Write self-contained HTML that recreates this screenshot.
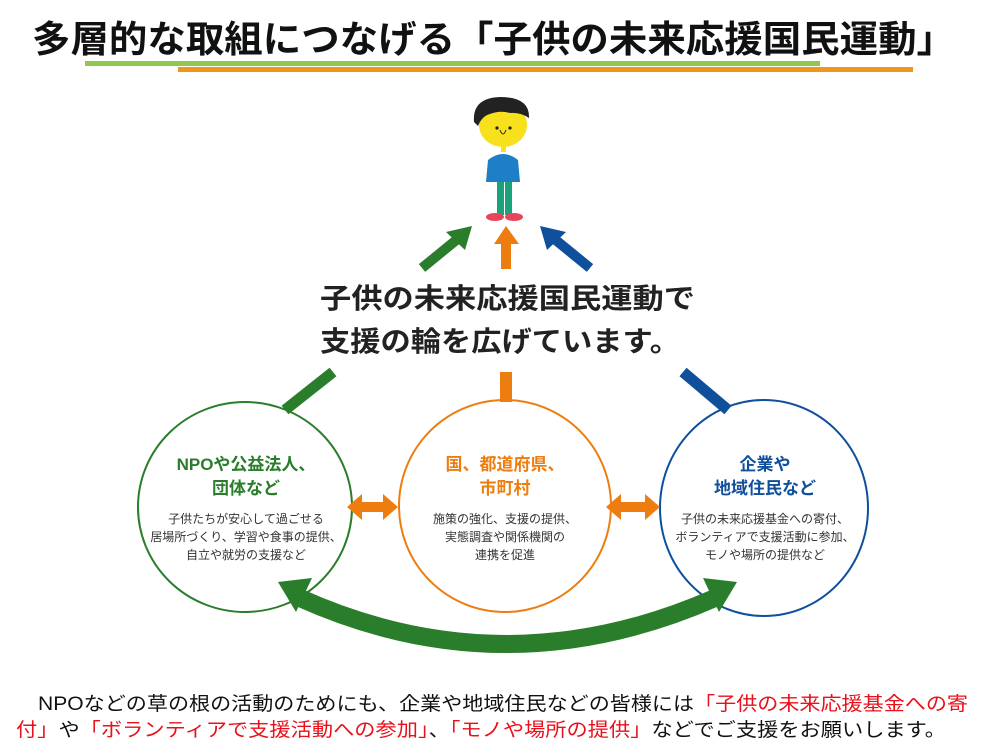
<!DOCTYPE html>
<html><head><meta charset="utf-8"><style>
body{margin:0;background:#fff}
svg{display:block}
text{font-family:"Liberation Sans","Noto Sans CJK JP",sans-serif}
</style></head><body>
<svg width="988" height="749" viewBox="0 0 988 749" xmlns="http://www.w3.org/2000/svg">
<text x="32" y="52" font-size="37" font-weight="bold" textLength="923" lengthAdjust="spacingAndGlyphs" fill="#111">多層的な取組につなげる「子供の未来応援国民運動」</text>
<rect x="85" y="61" width="735" height="5" fill="#92c84a"/>
<rect x="178" y="67" width="735" height="5" fill="#f0961a"/>

<!-- person -->
<ellipse cx="503" cy="125" rx="24" ry="22" fill="#f7e11c"/>
<path d="M474,122 Q472,98 500,97 Q530,97 529,118 Q520,112 510,113 Q500,110 490,114 Q482,116 478,126 Z" fill="#222"/>
<circle cx="497" cy="128" r="1.6" fill="#222"/><circle cx="510" cy="128" r="1.6" fill="#222"/>
<path d="M500,130 Q503,138 506,130" stroke="#222" fill="none" stroke-width="1"/>
<rect x="501" y="146" width="5" height="6" fill="#f7e11c"/>
<path d="M488,160 Q503,148 518,160 L520,182 L486,182 Z" fill="#1f7fc6"/>
<rect x="497" y="182" width="7" height="33" fill="#1aa37a"/><rect x="505" y="182" width="7" height="33" fill="#1aa37a"/>
<ellipse cx="495" cy="217" rx="9" ry="4" fill="#e8455a"/><ellipse cx="514" cy="217" rx="9" ry="4" fill="#e8455a"/>

<!-- top arrows -->
<g stroke-linecap="butt">
<line x1="422" y1="268" x2="460" y2="237" stroke="#2a7d2a" stroke-width="10"/>
<polygon points="472,226 446,232 465,250" fill="#2a7d2a"/>
<rect x="501" y="242" width="10" height="27" fill="#ee7d10"/>
<polygon points="494,244 519,244 506,226" fill="#ee7d10"/>
<line x1="590" y1="268" x2="552" y2="237" stroke="#0f4f9c" stroke-width="10"/>
<polygon points="540,226 566,232 547,250" fill="#0f4f9c"/>
</g>

<text x="320" y="308" font-size="28" font-weight="bold" fill="#222" textLength="375" lengthAdjust="spacingAndGlyphs">子供の未来応援国民運動で</text>
<text x="320" y="351" font-size="28" font-weight="bold" fill="#222" textLength="360" lengthAdjust="spacingAndGlyphs">支援の輪を広げています。</text>

<line x1="285" y1="410" x2="333" y2="372" stroke="#2a7d2a" stroke-width="11"/>
<rect x="500" y="372" width="12" height="30" fill="#ee7d10"/>
<line x1="683" y1="372" x2="728" y2="410" stroke="#0f4f9c" stroke-width="11"/>

<ellipse cx="245" cy="507" rx="107" ry="105" fill="none" stroke="#2a7d2a" stroke-width="2"/>
<ellipse cx="505" cy="506" rx="106" ry="106" fill="none" stroke="#ee7d10" stroke-width="2"/>
<ellipse cx="764" cy="508" rx="104" ry="108" fill="none" stroke="#0f4f9c" stroke-width="2"/>

<polygon points="347,507 362,494 362,502 383,502 383,494 398,507 383,520 383,512 362,512 362,520" fill="#ee7d10"/>
<polygon points="606,507 621,494 621,502 645,502 645,494 660,507 645,520 645,512 621,512 621,520" fill="#ee7d10"/>

<path d="M300,598 Q505,690 715,598" fill="none" stroke="#2a7d2a" stroke-width="18"/>
<polygon points="278,582 312,578 296,612" fill="#2a7d2a"/>
<polygon points="737,582 703,578 719,612" fill="#2a7d2a"/>

<g text-anchor="middle">
<text x="246" y="470" font-size="17" font-weight="bold" fill="#2a7d2a">NPOや公益法人、</text>
<text x="246" y="494" font-size="17" font-weight="bold" fill="#2a7d2a">団体など</text>
<text x="246" y="523" font-size="12" fill="#333">子供たちが安心して過ごせる</text>
<text x="246" y="541" font-size="12" fill="#333">居場所づくり、学習や食事の提供、</text>
<text x="246" y="559" font-size="12" fill="#333">自立や就労の支援など</text>
<text x="505" y="470" font-size="17" font-weight="bold" fill="#ee7d10">国、都道府県、</text>
<text x="505" y="494" font-size="17" font-weight="bold" fill="#ee7d10">市町村</text>
<text x="505" y="523" font-size="12" fill="#333">施策の強化、支援の提供、</text>
<text x="505" y="541" font-size="12" fill="#333">実態調査や関係機関の</text>
<text x="505" y="559" font-size="12" fill="#333">連携を促進</text>
<text x="765" y="470" font-size="17" font-weight="bold" fill="#0f4f9c">企業や</text>
<text x="765" y="494" font-size="17" font-weight="bold" fill="#0f4f9c">地域住民など</text>
<text x="765" y="523" font-size="12" fill="#333">子供の未来応援基金への寄付、</text>
<text x="765" y="541" font-size="12" fill="#333">ボランティアで支援活動に参加、</text>
<text x="765" y="559" font-size="12" fill="#333">モノや場所の提供など</text>
</g>

<text x="38" y="710" font-size="19" fill="#111" textLength="930" lengthAdjust="spacingAndGlyphs">NPOなどの草の根の活動のためにも、企業や地域住民などの皆様には<tspan fill="#e8101a">「子供の未来応援基金への寄</tspan></text>
<text x="16" y="736" font-size="19" fill="#111" textLength="930" lengthAdjust="spacingAndGlyphs"><tspan fill="#e8101a">付」</tspan>や<tspan fill="#e8101a">「ボランティアで支援活動への参加」</tspan>、<tspan fill="#e8101a">「モノや場所の提供」</tspan>などでご支援をお願いします。</text>
</svg>
</body></html>
